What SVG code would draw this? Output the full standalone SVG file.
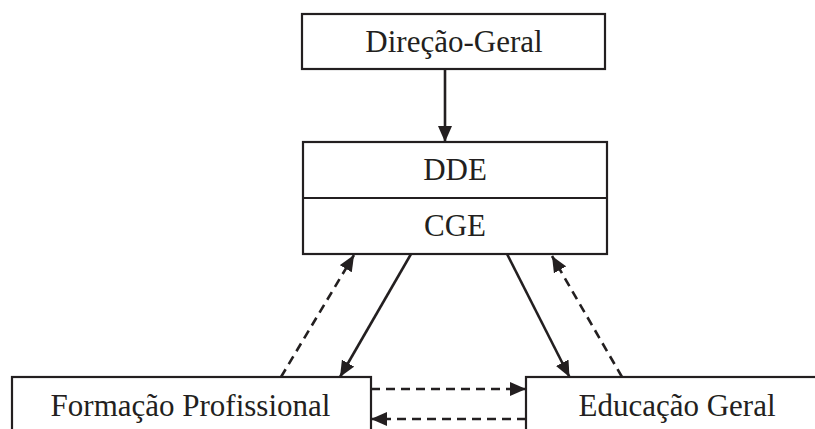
<svg xmlns="http://www.w3.org/2000/svg" width="815" height="429" viewBox="0 0 815 429">
  <style>
    .box { fill: #ffffff; stroke: #231f20; stroke-width: 2.2; }
    .lbl { font-family: "Liberation Serif", "Times New Roman", serif; font-size: 31px; fill: #231f20; text-anchor: middle; }
    .link { fill: none; stroke: #231f20; stroke-width: 2.6; }
    .dash { stroke-dasharray: 9 6; }
  </style>
  <defs>
    <marker id="arrow" viewBox="0 0 16 14" refX="16" refY="7" markerWidth="16" markerHeight="14" markerUnits="userSpaceOnUse" orient="auto">
      <path d="M0,0 L16,7 L0,14 Z" fill="#231f20"/>
    </marker>
  </defs>
  <rect width="815" height="429" fill="#ffffff"/>

  <g id="direcao-geral">
    <rect class="box" x="302" y="14" width="303" height="55"/>
    <text class="lbl" x="454" y="52">Direção-Geral</text>
  </g>

  <g id="dde-cge">
    <rect class="box" x="303" y="142" width="304" height="112"/>
    <line class="box" x1="303" y1="198" x2="607" y2="198"/>
    <text class="lbl" x="455" y="180">DDE</text>
    <text class="lbl" x="455" y="236">CGE</text>
  </g>

  <g id="formacao-profissional">
    <rect class="box" x="12" y="377" width="359" height="70"/>
    <text class="lbl" x="190.5" y="416">Formação Profissional</text>
  </g>

  <g id="educacao-geral">
    <rect class="box" x="526" y="377" width="300" height="70"/>
    <text class="lbl" x="677" y="416">Educação Geral</text>
  </g>

  <g id="connectors">
    <line class="link" x1="445" y1="69" x2="445" y2="142" marker-end="url(#arrow)"/>
    <line class="link" x1="411" y1="254" x2="340" y2="377" marker-end="url(#arrow)"/>
    <line class="link" x1="507" y1="254" x2="569.5" y2="377" marker-end="url(#arrow)"/>
    <line class="link dash" x1="281" y1="377" x2="354" y2="255" marker-end="url(#arrow)"/>
    <line class="link dash" x1="622" y1="377" x2="552" y2="256" marker-end="url(#arrow)"/>
    <line class="link dash" x1="371" y1="389" x2="526" y2="389" marker-end="url(#arrow)"/>
    <line class="link dash" x1="526" y1="419" x2="371" y2="419" marker-end="url(#arrow)"/>
  </g>
</svg>
